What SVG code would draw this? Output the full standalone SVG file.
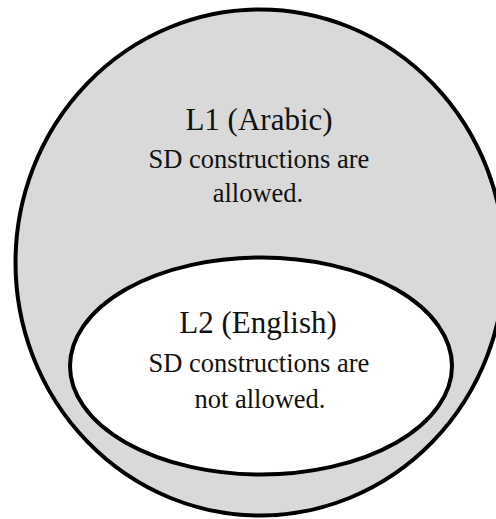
<svg xmlns="http://www.w3.org/2000/svg" width="496" height="519" viewBox="0 0 496 519">
  <style>
    .set { stroke: #000; stroke-width: 4; }
    .outer { fill: #d9d9d9; }
    .inner { fill: #fff; }
    text { font-family: "Liberation Serif", "Times New Roman", serif; fill: #111; text-anchor: middle; }
    .title { font-size: 31px; }
    .body { font-size: 26.5px; }
  </style>
  <rect width="496" height="519" fill="#fff"/>
  <!-- L1 set: the larger containing ellipse -->
  <g id="l1-arabic">
    <ellipse class="set outer" cx="260" cy="262.5" rx="244.5" ry="253"/>
    <text class="title" x="259" y="130">L1 (Arabic)</text>
    <text class="body" x="259" y="168">SD constructions are</text>
    <text class="body" x="258" y="202">allowed.</text>
  </g>
  <!-- L2 set: nested ellipse -->
  <g id="l2-english">
    <ellipse class="set inner" cx="261" cy="366" rx="191" ry="108.5"/>
    <text class="title" x="258" y="333">L2 (English)</text>
    <text class="body" x="259" y="372">SD constructions are</text>
    <text class="body" x="260" y="408">not allowed.</text>
  </g>
  <g id="connectors"></g>
</svg>
